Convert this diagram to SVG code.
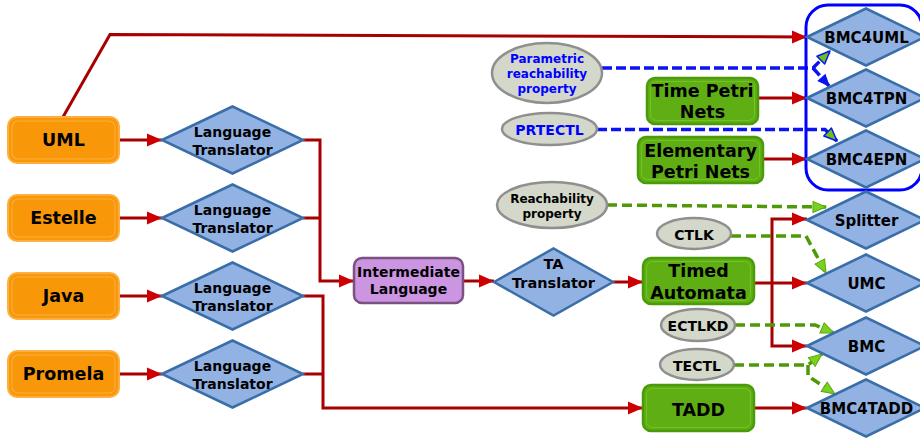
<svg xmlns="http://www.w3.org/2000/svg" width="920" height="439" viewBox="0 0 920 439">
<style>
text{font-family:"DejaVu Sans","Noto Sans",sans-serif;font-weight:bold;text-anchor:middle;fill:#000}
.o{fill:#f89808;stroke:#fdb041;stroke-width:2}
.oi{fill:none;stroke:#fcb24a;stroke-width:1.2;opacity:.8}
.g{fill:#5faf14;stroke:#4b9a0a;stroke-width:2.5}
.gi{fill:none;stroke:#78c828;stroke-width:1;opacity:.8}
.p{fill:#cb95e2;stroke:#7a5180;stroke-width:2.5}
.d{fill:#93b2e4;stroke:#3a6ea8;stroke-width:2.5;stroke-linejoin:miter}
.e{fill:#d3d8cb;stroke:#8f8f8f;stroke-width:2.5}
.r{fill:none;stroke:#a80000;stroke-width:3}
.ra{fill:none;stroke:#a80000;stroke-width:3;marker-end:url(#ar)}
.bd{fill:none;stroke:#0a14f0;stroke-width:3.5;stroke-dasharray:10,4}
.gd{fill:none;stroke:#4e9a06;stroke-width:3.5;stroke-dasharray:10,5}
.blue{fill:#0000ff}
</style>
<defs>
<marker id="ar" markerUnits="userSpaceOnUse" markerWidth="16" markerHeight="14" refX="15" refY="6.5" orient="auto" overflow="visible"><path d="M0,0 L15,6.5 L0,13 z" fill="#cc0000"/></marker>
<marker id="ab" markerUnits="userSpaceOnUse" markerWidth="14" markerHeight="12" refX="13" refY="5.5" orient="auto" overflow="visible"><path d="M0,0 L13,5.5 L0,11 z" fill="#0a14f0"/></marker>
<marker id="abg" markerUnits="userSpaceOnUse" markerWidth="14" markerHeight="12" refX="13" refY="5.5" orient="auto" overflow="visible"><path d="M0,0 L13,5.5 L0,11 z" fill="#6cc018" stroke="#0a14f0" stroke-width="1.5" stroke-linejoin="round"/></marker>
<marker id="ag" markerUnits="userSpaceOnUse" markerWidth="14" markerHeight="12" refX="13" refY="5.5" orient="auto" overflow="visible"><path d="M0,0 L13,5.5 L0,11 z" fill="#79d21e" stroke="#5aa80e" stroke-width="1"/></marker>
</defs>

<g id="connectors">
<path class="ra" d="M63,117 L110,34.5 L807,37"/>
<path class="ra" d="M119,140 L162,140"/>
<path class="ra" d="M119,218 L162,218"/>
<path class="ra" d="M119,296 L162,296"/>
<path class="ra" d="M119,374 L162,374"/>
<path class="ra" d="M303,140 L320,140 L320,281 L354,281"/>
<path class="r" d="M303,218 L320,218"/>
<path class="ra" d="M303,296 L323,296 L323,408 L643,408"/>
<path class="r" d="M303,374 L323,374"/>
<path class="ra" d="M463,281 L494,281"/>
<path class="ra" d="M613,282 L643,282"/>
<path class="ra" d="M754,283 L807,283"/>
<path class="ra" d="M772,283 L772,219 L807,219"/>
<path class="ra" d="M772,283 L772,346 L807,346"/>
<path class="ra" d="M758,98 L807,98"/>
<path class="ra" d="M763,159 L807,159"/>
<path class="ra" d="M754,408 L807,408"/>
<path class="bd" d="M602,68 L813,68 L830,51" marker-end="url(#abg)"/>
<path class="bd" d="M813,68 L830,87" marker-end="url(#ab)"/>
<path class="bd" d="M597,129.5 L825,129.5 L837,141" marker-end="url(#abg)"/>
<path class="gd" d="M607,205 L826,207" marker-end="url(#ag)"/>
<path class="gd" d="M731,236 L806,236 L826,273" marker-end="url(#ag)"/>
<path class="gd" d="M735,325 L815,325 L834,333" marker-end="url(#ag)"/>
<path class="gd" d="M734,365 L808,365 L822,354" marker-end="url(#ag)"/>
<path class="gd" d="M808,365 L808,376 L835,394" marker-end="url(#ag)"/>
</g>

<g id="bmc-group"><rect x="806" y="5" width="116" height="185" rx="22" fill="none" stroke="#0000ff" stroke-width="3"/></g>

<g id="uml"><rect class="o" x="8" y="117" width="111" height="46" rx="9"/><rect class="oi" x="12" y="121" width="103" height="38" rx="6"/><text x="63.5" y="146" font-size="17.5">UML</text></g>
<g id="estelle"><rect class="o" x="8" y="195" width="111" height="46" rx="9"/><rect class="oi" x="12" y="199" width="103" height="38" rx="6"/><text x="63.5" y="224" font-size="17.5">Estelle</text></g>
<g id="java"><rect class="o" x="8" y="273" width="111" height="46" rx="9"/><rect class="oi" x="12" y="277" width="103" height="38" rx="6"/><text x="63.5" y="302" font-size="17.5">Java</text></g>
<g id="promela"><rect class="o" x="8" y="351" width="111" height="46" rx="9"/><rect class="oi" x="12" y="355" width="103" height="38" rx="6"/><text x="63.5" y="380" font-size="17.5">Promela</text></g>

<g id="lt1"><polygon class="d" points="162,140 232.5,106.5 303,140 232.5,173.5"/><text x="232.5" y="137" font-size="14">Language</text><text x="232.5" y="155" font-size="14">Translator</text></g>
<g id="lt2"><polygon class="d" points="162,218 232.5,184.5 303,218 232.5,251.5"/><text x="232.5" y="215" font-size="14">Language</text><text x="232.5" y="233" font-size="14">Translator</text></g>
<g id="lt3"><polygon class="d" points="162,296 232.5,262.5 303,296 232.5,329.5"/><text x="232.5" y="293" font-size="14">Language</text><text x="232.5" y="311" font-size="14">Translator</text></g>
<g id="lt4"><polygon class="d" points="162,374 232.5,340.5 303,374 232.5,407.5"/><text x="232.5" y="371" font-size="14">Language</text><text x="232.5" y="389" font-size="14">Translator</text></g>

<g id="intermediate"><rect class="p" x="354" y="258" width="109" height="45" rx="8"/><text x="408.5" y="277" font-size="14">Intermediate</text><text x="408.5" y="294" font-size="14">Language</text></g>
<g id="ta-translator"><polygon class="d" points="494,282 553.5,248.5 613,282 553.5,315.5"/><text x="553.5" y="269" font-size="14.5">TA</text><text x="553.5" y="288" font-size="14.5">Translator</text></g>

<g id="timed-automata"><rect class="g" x="643" y="258" width="111" height="46" rx="8"/><rect class="gi" x="646.5" y="261.5" width="104" height="39" rx="6"/><text x="698.5" y="277" font-size="17.5">Timed</text><text x="698.5" y="299" font-size="17.5">Automata</text></g>
<g id="tadd"><rect class="g" x="643" y="385" width="111" height="46" rx="8"/><rect class="gi" x="646.5" y="388.5" width="104" height="39" rx="6"/><text x="698.5" y="416" font-size="17.5">TADD</text></g>
<g id="time-petri-nets"><rect class="g" x="647" y="78" width="111" height="46" rx="8"/><rect class="gi" x="650.5" y="81.5" width="104" height="39" rx="6"/><text x="702.5" y="97" font-size="17.5">Time Petri</text><text x="702.5" y="118" font-size="17.5">Nets</text></g>
<g id="elementary-petri-nets"><rect class="g" x="638" y="137" width="125" height="46" rx="8"/><rect class="gi" x="641.5" y="140.5" width="118" height="39" rx="6"/><text x="700.5" y="157" font-size="17.5">Elementary</text><text x="700.5" y="178" font-size="17.5">Petri Nets</text></g>

<g id="parametric"><ellipse class="e" cx="547" cy="73" rx="55" ry="30"/><text class="blue" x="547" y="63" font-size="12">Parametric</text><text class="blue" x="547" y="78" font-size="12">reachability</text><text class="blue" x="547" y="93" font-size="12">property</text></g>
<g id="prtectl"><ellipse class="e" cx="549.5" cy="129" rx="47.5" ry="16"/><text class="blue" x="549.5" y="135" font-size="14">PRTECTL</text></g>
<g id="reachability"><ellipse class="e" cx="552" cy="205" rx="55" ry="23"/><text x="552" y="203" font-size="12">Reachability</text><text x="552" y="218" font-size="12">property</text></g>
<g id="ctlk"><ellipse class="e" cx="694" cy="233.5" rx="37" ry="15.5"/><text x="694" y="239.5" font-size="14">CTLK</text></g>
<g id="ectlkd"><ellipse class="e" cx="698" cy="325" rx="37" ry="16"/><text x="698" y="331" font-size="14">ECTLKD</text></g>
<g id="tectl"><ellipse class="e" cx="697" cy="364.5" rx="37" ry="15.5"/><text x="697" y="370.5" font-size="14">TECTL</text></g>

<g id="bmc4uml"><polygon class="d" points="807,37 866,8.5 925,37 866,65.5"/><text x="866.5" y="42.5" font-size="15">BMC4UML</text></g>
<g id="bmc4tpn"><polygon class="d" points="807,98 866,69.5 925,98 866,126.5"/><text x="866.5" y="103.5" font-size="15">BMC4TPN</text></g>
<g id="bmc4epn"><polygon class="d" points="807,159 866,130.5 925,159 866,187.5"/><text x="866.5" y="164.5" font-size="15">BMC4EPN</text></g>
<g id="splitter"><polygon class="d" points="807,220 866,191.5 925,220 866,248.5"/><text x="866.5" y="225.5" font-size="15">Splitter</text></g>
<g id="umc"><polygon class="d" points="807,283 866,254.5 925,283 866,311.5"/><text x="866.5" y="288.5" font-size="15">UMC</text></g>
<g id="bmc"><polygon class="d" points="807,346 866,317.5 925,346 866,374.5"/><text x="866.5" y="351.5" font-size="15">BMC</text></g>
<g id="bmc4tadd"><polygon class="d" points="807,408 866,379.5 925,408 866,436.5"/><text x="866.5" y="413.5" font-size="15">BMC4TADD</text></g>
</svg>
